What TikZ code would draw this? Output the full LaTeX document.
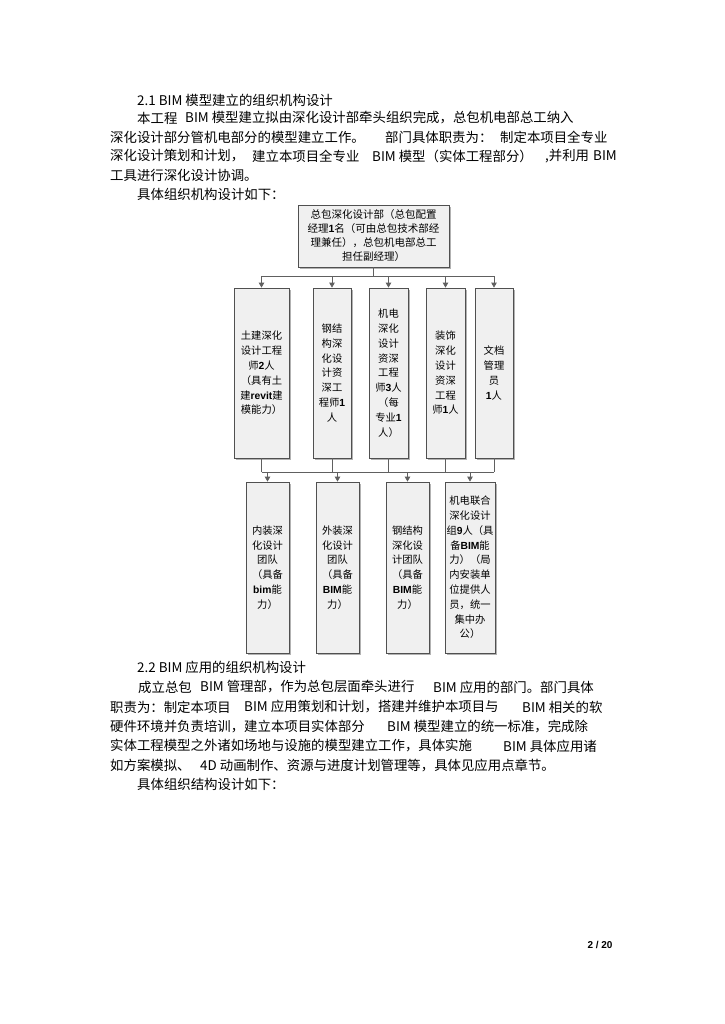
\documentclass[tikz,border=0pt]{standalone}
\usepackage{fontspec}
\setmainfont{Noto Sans CJK SC}
\newfontfamily\arialfont{Liberation Sans}
\usetikzlibrary{arrows.meta,shadows}
\newcommand{\bnum}[1]{{\arialfont\bfseries #1}}
\definecolor{boxfill}{HTML}{F0F0F0}
\definecolor{boxline}{HTML}{505050}
\definecolor{linkgray}{HTML}{606060}
\tikzset{
  txt/.style={anchor=west, inner sep=0pt, font=\fontsize{13.4}{16}\selectfont},
  orgbox/.style={draw=boxline, line width=0.8pt, fill=boxfill, inner sep=0pt,
    align=center, font=\fontsize{10.3}{14.8}\selectfont,
    drop shadow={shadow xshift=1.6pt, shadow yshift=-1.6pt, fill=black!30, opacity=1}},
  line/.style={draw=linkgray, line width=0.8pt},
  arr/.style={line, -{Triangle[length=5pt,width=5.5pt]}}
}
\begin{document}
\begin{tikzpicture}[x=1pt,y=-1pt]
\useasboundingbox[fill=white] (0,0) rectangle (724,1024);

% section 2.1
\node[txt] (h1) at (137,100) {2.1 BIM 模型建立的组织机构设计};
\node[txt] (p1a) at (137,118) {本工程};
\node[txt] (p1b) at (185,118) {BIM 模型建立拟由深化设计部牵头组织完成，总包机电部总工纳入};
\node[txt] (p2a) at (110,137) {深化设计部分管机电部分的模型建立工作。};
\node[txt] (p2b) at (385,137) {部门具体职责为：};
\node[txt] (p2c) at (500,137) {制定本项目全专业};
\node[txt] (p3a) at (110,156) {深化设计策划和计划，};
\node[txt] (p3b) at (252,156) {建立本项目全专业};
\node[txt] (p3c) at (372,156) {BIM 模型（实体工程部分）};
\node[txt] (p3d) at (545,156) {,并利用};
\node[txt] (p3e) at (593,156) {BIM};
\node[txt] (p4) at (110,175) {工具进行深化设计协调。};
\node[txt] (p5) at (137,194) {具体组织机构设计如下：};

% org chart
\node[orgbox, minimum width=151, minimum height=62, font=\fontsize{10.5}{14}\selectfont]
  (top) at (373.5,236) {总包深化设计部（总包配置\\经理\bnum{1}名（可由总包技术部经\\理兼任），总包机电部总工\\担任副经理）};

\node[orgbox, minimum width=55, minimum height=170] (m1) at (261.5,373)
  {土建深化\\设计工程\\师\bnum{2}人\\（具有土\\建\bnum{revit}建\\模能力）};
\node[orgbox, minimum width=38, minimum height=170] (m2) at (332,373)
  {钢结\\构深\\化设\\计资\\深工\\程师\bnum{1}\\人};
\node[orgbox, minimum width=39, minimum height=170] (m3) at (388.5,373)
  {机电\\深化\\设计\\资深\\工程\\师\bnum{3}人\\（每\\专业\bnum{1}\\人）};
\node[orgbox, minimum width=39, minimum height=170] (m4) at (445.5,373)
  {装饰\\深化\\设计\\资深\\工程\\师\bnum{1}人};
\node[orgbox, minimum width=38, minimum height=170] (m5) at (494,373)
  {文档\\管理\\员\\\bnum{1}人};

\node[orgbox, minimum width=43, minimum height=171] (b1) at (267.5,567.5)
  {内装深\\化设计\\团队\\（具备\\\bnum{bim}能\\力）};
\node[orgbox, minimum width=43, minimum height=171] (b2) at (337.5,567.5)
  {外装深\\化设计\\团队\\（具备\\\bnum{BIM}能\\力）};
\node[orgbox, minimum width=43, minimum height=171] (b3) at (407.5,567.5)
  {钢结构\\深化设\\计团队\\（具备\\\bnum{BIM}能\\力）};
\node[orgbox, minimum width=50, minimum height=171] (b4) at (470,567.5)
  {机电联合\\深化设计\\组\bnum{9}人（具\\备\bnum{BIM}能\\力）（局\\内安装单\\位提供人\\员，统一\\集中办\\公）};

\foreach \m in {m1,m2,m3,m4,m5}
  \draw[arr] (top.south) -- ++(0,9) -| (\m.north);

\coordinate (bus) at (0,472);
\foreach \m in {m1,m2,m3,m4,m5}
  \draw[line] (\m.south) -- (\m.south |- bus);
\draw[line] (m1.south |- bus) -- (m5.south |- bus);
\foreach \b in {b1,b2,b3,b4}
  \draw[arr] (\b.north |- bus) -- (\b.north);

% section 2.2
\node[txt] (h2) at (137,667) {2.2 BIM 应用的组织机构设计};
\node[txt] (q1a) at (138,687) {成立总包};
\node[txt] (q1b) at (200,687) {BIM 管理部，作为总包层面牵头进行};
\node[txt] (q1c) at (433,687) {BIM 应用的部门。部门具体};
\node[txt] (q2a) at (110,707) {职责为：制定本项目};
\node[txt] (q2b) at (244,707) {BIM 应用策划和计划，搭建并维护本项目与};
\node[txt] (q2c) at (522,707) {BIM 相关的软};
\node[txt] (q3a) at (110,727) {硬件环境并负责培训，建立本项目实体部分};
\node[txt] (q3b) at (387,727) {BIM 模型建立的统一标准，完成除};
\node[txt] (q4a) at (110,746) {实体工程模型之外诸如场地与设施的模型建立工作，具体实施};
\node[txt] (q4b) at (503,746) {BIM 具体应用诸};
\node[txt] (q5a) at (110,765) {如方案模拟、};
\node[txt] (q5b) at (200,765) {4D 动画制作、资源与进度计划管理等，具体见应用点章节。};
\node[txt] (q6) at (137,784) {具体组织结构设计如下：};

\node[inner sep=0pt, font=\arialfont\bfseries\fontsize{10}{12}\selectfont] (pg) at (600,945) {2 / 20};
\end{tikzpicture}
\end{document}
